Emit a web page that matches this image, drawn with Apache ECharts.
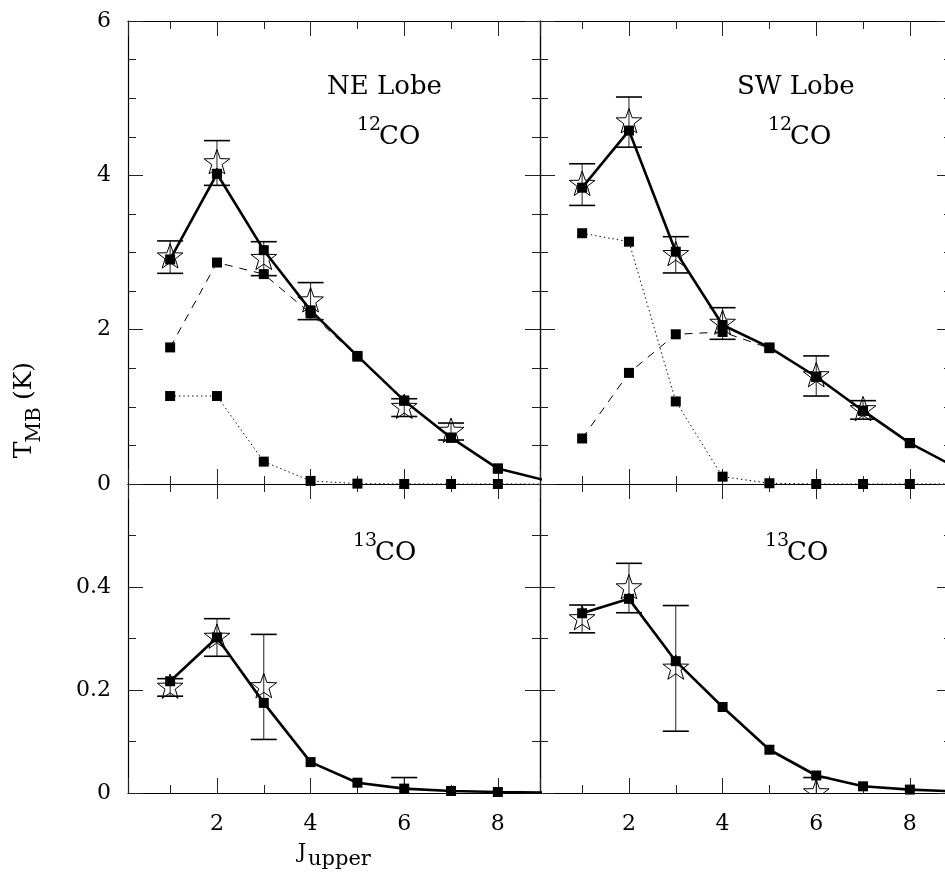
<!DOCTYPE html>
<html><head><meta charset="utf-8">
<script src="https://cdn.jsdelivr.net/npm/echarts@6/dist/echarts.min.js"></script>
<style>html,body{margin:0;padding:0;background:#fff}#c{width:945px;height:875px}</style>
</head><body><div id="c"></div>
<script>
// ---------------- data ----------------
const J = [1, 2, 3, 4, 5, 6, 7, 8, 9];

// NE lobe 12CO
const ne12Total = [2.91, 4.02, 3.03, 2.25, 1.66, 1.08, 0.60, 0.20, 0.05];
const ne12Dash  = [1.77, 2.87, 2.72, 2.21, 1.65, 1.08, 0.60, 0.20, 0.05];
const ne12Dot   = [1.14, 1.14, 0.29, 0.04, 0.005, 0.0, 0.0, 0.0, 0.0];
const ne12ObsJ  = [1, 2, 3, 4, 6, 7];
const ne12Obs   = [2.94, 4.16, 2.92, 2.37, 0.99, 0.68];
const ne12Err   = [0.21, 0.29, 0.22, 0.24, 0.115, 0.11];

// SW lobe 12CO
const sw12Total = [3.84, 4.58, 3.01, 2.06, 1.77, 1.39, 0.95, 0.53, 0.21];
const sw12Dash  = [0.59, 1.44, 1.94, 1.97, 1.76, 1.39, 0.95, 0.53, 0.21];
const sw12Dot   = [3.25, 3.14, 1.07, 0.095, 0.01, 0.0, 0.0, 0.0, 0.0];
const sw12ObsJ  = [1, 2, 3, 4, 6, 7];
const sw12Obs   = [3.88, 4.69, 2.97, 2.08, 1.40, 0.96];
const sw12Err   = [0.27, 0.325, 0.235, 0.205, 0.26, 0.12];

// NE lobe 13CO
const ne13Total = [0.217, 0.302, 0.175, 0.060, 0.020, 0.0085, 0.004, 0.002, 0.001];
const ne13ObsJ  = [1, 2, 3, 6];
const ne13Obs   = [0.205, 0.302, 0.206, -0.012];
const ne13Err   = [0.017, 0.0365, 0.102, 0.042];

// SW lobe 13CO
const sw13Total = [0.349, 0.377, 0.256, 0.167, 0.084, 0.034, 0.013, 0.0066, 0.003];
const sw13ObsJ  = [1, 2, 3, 6];
const sw13Obs   = [0.338, 0.398, 0.242, 0.0];
const sw13Err   = [0.027, 0.048, 0.122, 0.030];

const xRange = [0.1, 8.9];
const yTopRange = [0, 6];
const yBotRange = [0, 0.6];

// ---------------- style / layout ----------------
const FONT = '"DejaVu Serif", serif';
const INK = '#000';

const gridBase = {containLabel: false, outerBoundsMode: 'none'};
const grids = [
  Object.assign({left: 128, top: 21, width: 412, height: 463}, gridBase),
  Object.assign({left: 540, top: 21, width: 412, height: 463}, gridBase),
  Object.assign({left: 128, top: 484, width: 412, height: 309}, gridBase),
  Object.assign({left: 540, top: 484, width: 412, height: 309}, gridBase)
];

function xAxisDef(gi, pos, showLabels) {
  return {
    type: 'value', gridIndex: gi, position: pos, min: xRange[0], max: xRange[1], splitNumber: 4,
    axisLine: {show: true, onZero: false, lineStyle: {color: INK, width: 1.2}},
    axisTick: {show: true, inside: true, length: 15, lineStyle: {color: '#222', width: 1}},
    minorTick: {show: true, splitNumber: 2, length: 8, lineStyle: {color: '#222', width: 1}},
    splitLine: {show: false}, minorSplitLine: {show: false},
    axisLabel: {
      show: showLabels, margin: 20, color: INK, fontFamily: FONT, fontSize: 22,
      formatter: v => (Math.abs(v - Math.round(v)) < 1e-6 ? String(Math.round(v)) : '')
    }
  };
}
function yAxisDef(gi, pos, top, showLabels) {
  const r = top ? yTopRange : yBotRange;
  return {
    type: 'value', gridIndex: gi, position: pos, min: r[0], max: r[1], interval: top ? 2 : 0.2,
    axisLine: {show: true, onZero: false, lineStyle: {color: INK, width: 1.2}},
    axisTick: {show: true, inside: true, length: 15, lineStyle: {color: '#222', width: 1}},
    minorTick: {show: true, splitNumber: top ? 4 : 2, length: 8, lineStyle: {color: '#222', width: 1}},
    splitLine: {show: false}, minorSplitLine: {show: false},
    axisLabel: {
      show: showLabels, margin: 17, color: INK, fontFamily: FONT, fontSize: 22,
      formatter: v => {
        if (top) return String(Math.round(v));
        if (v > 0.55) return '';
        if (Math.abs(v) < 1e-9) return '0';
        return v.toFixed(1);
      }
    }
  };
}

const xAxes = [], yAxes = [];
for (let gi = 0; gi < 4; gi++) {
  const isTop = gi < 2;
  xAxes.push(xAxisDef(gi, 'bottom', !isTop));
  xAxes.push(xAxisDef(gi, 'top', false));
  yAxes.push(yAxisDef(gi, 'left', isTop, gi % 2 === 0));
  yAxes.push(yAxisDef(gi, 'right', isTop, false));
}

// star outline points (unit radius) for the observed-value symbol
const STAR_PTS = [];
for (let k = 0; k < 10; k++) {
  const a = -Math.PI / 2 + k * Math.PI / 5;
  const rad = k % 2 === 0 ? 1 : 0.4;
  STAR_PTS.push([rad * Math.cos(a), rad * Math.sin(a)]);
}
const STAR_R = 13.5;

function pairs(xs, ys) { return xs.map((x, k) => [x, ys[k]]); }

function lineSeries(gi, ys, kind) {
  const ls = {color: INK, width: 1, type: 'solid'};
  if (kind === 'solid') ls.width = 2.6;
  if (kind === 'dash') ls.type = [8, 7];
  if (kind === 'dot') ls.type = [1.4, 3];
  return {
    type: 'line', xAxisIndex: 2 * gi, yAxisIndex: 2 * gi, data: pairs(J, ys),
    symbol: 'rect', symbolSize: 10, showAllSymbol: true,
    itemStyle: {color: INK}, lineStyle: ls, clip: true, z: kind === 'solid' ? 6 : 5,
    emphasis: {disabled: true}, silent: true
  };
}
function starSeries(gi, xs, ys) {
  return {
    type: 'custom', xAxisIndex: 2 * gi, yAxisIndex: 2 * gi, clip: true, z: 3, silent: true,
    data: pairs(xs, ys), encode: {x: 0, y: 1},
    renderItem: (params, api) => {
      const c = api.coord([api.value(0), api.value(1)]);
      return {
        type: 'polygon',
        shape: {points: STAR_PTS.map(p => [c[0] + p[0] * STAR_R, c[1] + p[1] * STAR_R])},
        style: {fill: 'none', stroke: INK, lineWidth: 1}
      };
    }
  };
}
function errSeries(gi, xs, ys, es) {
  return {
    type: 'custom', xAxisIndex: 2 * gi, yAxisIndex: 2 * gi, clip: true, z: 2, silent: true,
    data: xs.map((x, k) => [x, ys[k] - es[k], ys[k] + es[k]]),
    encode: {x: 0, y: [1, 2]},
    renderItem: (params, api) => {
      const lo = api.coord([api.value(0), api.value(1)]);
      const hi = api.coord([api.value(0), api.value(2)]);
      const hw = 13;
      return {type: 'group', children: [
        {type: 'line', shape: {x1: lo[0], y1: lo[1], x2: hi[0], y2: hi[1]}, style: {stroke: '#222', lineWidth: 1}},
        {type: 'line', shape: {x1: lo[0] - hw, y1: lo[1], x2: lo[0] + hw, y2: lo[1]}, style: {stroke: INK, lineWidth: 1.6}},
        {type: 'line', shape: {x1: hi[0] - hw, y1: hi[1], x2: hi[0] + hw, y2: hi[1]}, style: {stroke: INK, lineWidth: 1.6}}
      ]};
    }
  };
}

const series = [
  errSeries(0, ne12ObsJ, ne12Obs, ne12Err), starSeries(0, ne12ObsJ, ne12Obs),
  lineSeries(0, ne12Dot, 'dot'), lineSeries(0, ne12Dash, 'dash'), lineSeries(0, ne12Total, 'solid'),
  errSeries(1, sw12ObsJ, sw12Obs, sw12Err), starSeries(1, sw12ObsJ, sw12Obs),
  lineSeries(1, sw12Dot, 'dot'), lineSeries(1, sw12Dash, 'dash'), lineSeries(1, sw12Total, 'solid'),
  errSeries(2, ne13ObsJ, ne13Obs, ne13Err), starSeries(2, ne13ObsJ, ne13Obs),
  lineSeries(2, ne13Total, 'solid'),
  errSeries(3, sw13ObsJ, sw13Obs, sw13Err), starSeries(3, sw13ObsJ, sw13Obs),
  lineSeries(3, sw13Total, 'solid')
];

function txt(x, y, text, size, opts) {
  opts = opts || {};
  return {
    type: 'text', x: x, y: y, rotation: opts.rot || 0, silent: true, z: 10,
    style: {text: text, fill: INK, font: size + 'px ' + FONT,
      textAlign: opts.align || 'left', textVerticalAlign: 'middle'}
  };
}
const graphics = [
  txt(327, 87, 'NE Lobe', 26),
  txt(357, 125, '12', 19), txt(379, 137.5, 'CO', 26),
  txt(737, 87, 'SW Lobe', 26),
  txt(768, 125, '12', 19), txt(790, 137.5, 'CO', 26),
  txt(353, 541, '13', 19), txt(375, 553, 'CO', 26),
  txt(765, 541, '13', 19), txt(787, 553, 'CO', 26),
  txt(24, 450, 'T', 25, {rot: Math.PI / 2, align: 'center'}),
  txt(35, 425, 'MB', 20, {rot: Math.PI / 2, align: 'center'}),
  txt(24, 381, '(K)', 25, {rot: Math.PI / 2, align: 'center'}),
  txt(302, 853, 'J', 21, {align: 'center'}),
  txt(308, 860, 'upper', 21)
];

const chart = echarts.init(document.getElementById('c'), null, {renderer: 'canvas'});
chart.setOption({
  animation: false,
  backgroundColor: '#fff',
  grid: grids,
  xAxis: xAxes,
  yAxis: yAxes,
  series: series,
  graphic: graphics
});
</script>
</body></html>
